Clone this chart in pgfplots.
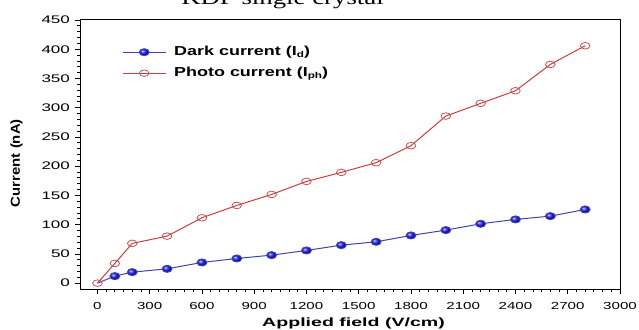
\documentclass[border=0pt]{standalone}
\usepackage{fontspec}
\usepackage{pgfplots}
\pgfplotsset{compat=1.18}
\setmainfont{Liberation Sans}
% wide-set faces used across the figure
\newfontfamily\xtickfont{Liberation Sans}[FakeStretch=1.48]
\newfontfamily\ytickfont{Liberation Sans}[FakeStretch=1.55]
\newfontfamily\legfont{Liberation Sans}[FakeStretch=1.38]
\newfontfamily\xlabfont{Liberation Sans}[FakeStretch=1.63]
\newfontfamily\ylabfont{Liberation Sans}[FakeStretch=1.15]
\newfontfamily\titlefont{Liberation Serif}[FakeStretch=1.34]

% small lowered index used in the legend entries
\newcommand{\idx}[1]{\raisebox{-2.5pt}{\fontsize{8.5}{9}\selectfont #1}}

\definecolor{darkline}{RGB}{66,66,176}
\definecolor{darkball}{RGB}{25,25,255}
\definecolor{photoline}{RGB}{208,60,60}
\definecolor{photomark}{RGB}{195,80,80}

\begin{document}
\begin{tikzpicture}[x=1pt,y=1pt]
\begin{axis}[
  at={(80pt,40pt)}, anchor=south west,
  scale only axis, width=540pt, height=269pt,
  xmin=-100, xmax=3000, ymin=-10, ymax=450,
  xtick={0,300,...,3000}, ytick={0,50,...,450},
  minor x tick num=5, minor y tick num=4,
  tick align=outside, tick pos=left,
  major tick length=5pt, minor tick length=3pt,
  every tick/.style={black, line width=0.8pt},
  axis line style={line width=1pt},
  xticklabel style={font=\xtickfont\fontsize{10.2}{12}\selectfont, yshift=-4.5pt},
  yticklabel style={font=\ytickfont\fontsize{11}{12}\selectfont, xshift=-1.5pt},
  /pgf/number format/assume math mode=true,
  /pgf/number format/1000 sep={},
  xlabel={Applied field (V/cm)},
  ylabel={Current (nA)},
  xlabel style={font=\xlabfont\bfseries\fontsize{12}{14}\selectfont,
    at={(axis description cs:0.5065,-0.141)}, anchor=base},
  ylabel style={font=\ylabfont\bfseries\fontsize{13}{15}\selectfont,
    at={(axis description cs:-0.1176,0.468)}, anchor=center},
  legend style={draw=none, fill=none, inner sep=0pt,
    at={(axis description cs:0.0778,0.907)}, anchor=north west,
    font=\legfont\bfseries\fontsize{13}{15}\selectfont,
    nodes={inner sep=0pt, text height=10pt, text depth=4pt},
    row sep=7pt, column sep=8pt},
  legend cell align=left,
  legend image code/.code={
    \draw[#1, mark=none] (0pt,0pt) -- (43pt,0pt);
    \draw[#1, mark indices={1}] plot coordinates {(21.5pt,0pt)};
  },
]
% dark current
\addplot[darkline, line width=1pt, mark=ball, mark size=3.5pt,
  mark indices={2,...,16},
  mark options={ball color=darkball, xscale=1.4}]
  coordinates {
  (0,0) (100,12) (200,18.8) (400,24.5) (600,35.4) (800,42.2)
  (1000,47.9) (1200,55.9) (1400,65) (1600,70.7) (1800,81.6)
  (2000,90.7) (2200,101.5) (2400,109) (2600,114.6) (2800,126)
  };
\addlegendentry{Dark current (I\idx{d})}
% photo current
\addplot[photoline, line width=1pt, mark=o, mark size=3.3pt,
  mark options={draw=photomark, fill=white, xscale=1.45, line width=0.8pt}]
  coordinates {
  (0,0) (100,33.7) (200,68) (400,80.4) (600,111.8) (800,132.9)
  (1000,151.7) (1200,174) (1400,189.4) (1600,206) (1800,235)
  (2000,285.7) (2200,307.5) (2400,329) (2600,374) (2800,406)
  };
\addlegendentry{Photo current (I\idx{ph})}
\end{axis}
\node[font=\titlefont\fontsize{20}{24}\selectfont, anchor=base]
  at (282.5,324) {KDP single crystal};
\pgfresetboundingbox
\useasboundingbox (0,0) rectangle (639,329);
\end{tikzpicture}
\end{document}
